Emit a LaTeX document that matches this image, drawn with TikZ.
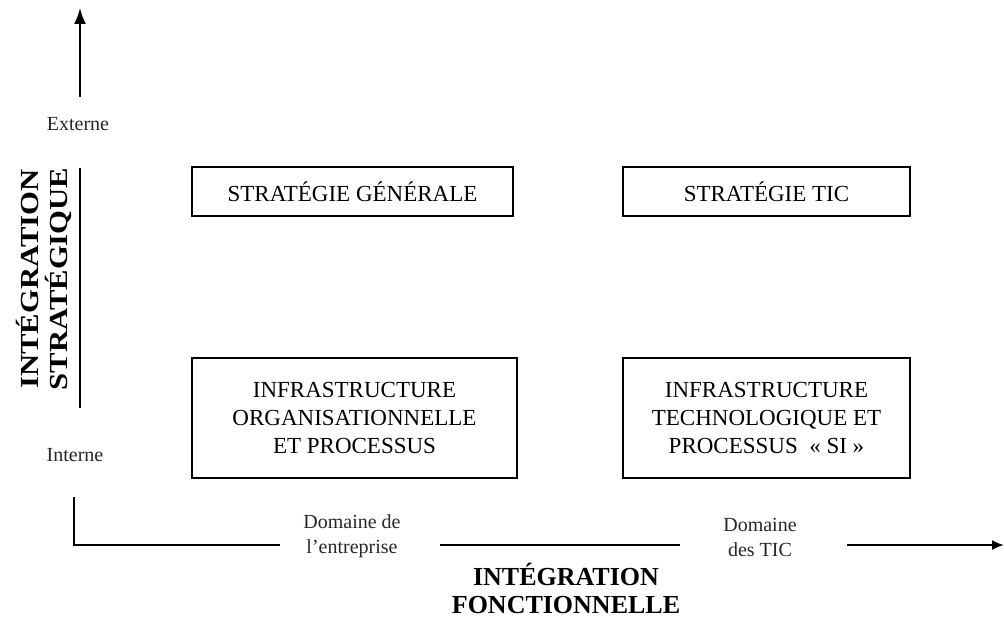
\documentclass[tikz,border=0pt]{standalone}
\usepackage{fontspec}
\usepackage{graphicx}
\setmainfont{Liberation Serif}
\usetikzlibrary{arrows.meta}
\begin{document}
\begin{tikzpicture}[x=1pt,y=-1pt,
  box/.style={draw, line width=1.8pt, inner sep=0pt, font=\fontsize{23}{28}\selectfont, align=center},
  axis/.style={line width=2pt},
  small/.style={font=\fontsize{20}{25}\selectfont, align=center, inner sep=0pt, text=black!85},
  title/.style={font=\bfseries\fontsize{26}{29}\selectfont, align=center, inner sep=0pt}]
\useasboundingbox (0,0) rectangle (1004,618);
% boxes
\node[box, minimum width=321pt, minimum height=49pt] (sg) at (352.5,191.5) {STRATÉGIE GÉNÉRALE};
\node[box, minimum width=287pt, minimum height=49pt] (st) at (766.5,191.5) {STRATÉGIE TIC};
\node[box, minimum width=325pt, minimum height=120pt] (io) at (354.5,418) {INFRASTRUCTURE\\ORGANISATIONNELLE\\ET PROCESSUS};
\node[box, minimum width=287pt, minimum height=120pt] (it) at (766.5,418) {INFRASTRUCTURE\\TECHNOLOGIQUE ET\\PROCESSUS~~« SI »};
% vertical axis
\coordinate (vbot) at (80,97);
\coordinate (vtop) at (80,8);
\draw[axis,-{Latex[length=16pt,width=12pt]}] (vbot) -- (vtop);
\node[small] (ext) at (78,124) {Externe};
\coordinate (va) at (80,168);
\coordinate (vb) at (80,408);
\draw[axis] (va) -- (vb);
\node[small] (inte) at (75,455) {Interne};
\node[title, rotate=90] (ist) at (44,279) {\scalebox{1.18}[1]{INTÉGRATION}\\\scalebox{1.18}[1]{STRATÉGIQUE}};
% horizontal axis
\coordinate (c0) at (74,497);
\coordinate (c1) at (74,545);
\coordinate (c2) at (280,545);
\draw[axis] (c0) -- (c1) -- (c2);
\node[small] (de) at (352,536) {Domaine de\\l’entreprise};
\coordinate (h1) at (440,545);
\coordinate (h2) at (680,545);
\draw[axis] (h1) -- (h2);
\node[small] (dt) at (760,537) {Domaine\\des TIC};
\coordinate (h3) at (847,545);
\coordinate (h4) at (1004,545);
\draw[axis,-{Latex[length=12pt,width=10pt]}] (h3) -- (h4);
\node[title, font=\bfseries\fontsize{26}{28}\selectfont] (ifo) at (566,588) {INTÉGRATION\\FONCTIONNELLE};
\end{tikzpicture}
\end{document}
